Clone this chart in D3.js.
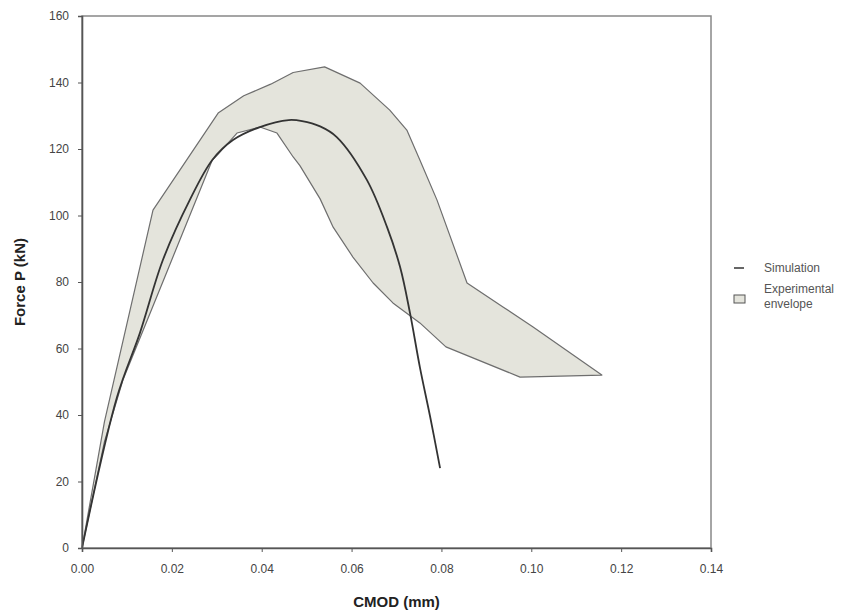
<!DOCTYPE html>
<html>
<head>
<meta charset="utf-8">
<script src="https://cdn.jsdelivr.net/npm/d3@7"></script>
<style>
  body { margin: 0; background: #fff; }
  text { font-family: "Liberation Sans", Arial, sans-serif; }
</style>
</head>
<body>
<svg id="chart" width="866" height="614"></svg>
<script>
// simulation curve: CMOD (mm), force (kN)
const simCmod = [0, 0.0078, 0.0129, 0.018, 0.024, 0.029, 0.0336, 0.0396, 0.046, 0.049, 0.053, 0.0567, 0.0634, 0.0679, 0.0708, 0.073, 0.0752, 0.0775, 0.0797];
const simForce = [0, 45.4, 64.7, 86.6, 104.7, 116.7, 122.7, 126.6, 128.7, 128.4, 126.8, 123.6, 110.7, 96.5, 84.5, 70.7, 54.4, 39.4, 24];

// experimental envelope, upper bound
const upperCmod = [0, 0.005, 0.0158, 0.0303, 0.036, 0.042, 0.047, 0.054, 0.0619, 0.0685, 0.0723, 0.0752, 0.079, 0.0857, 0.0937, 0.1004, 0.1157];
const upperForce = [0, 38, 101.6, 130.8, 136, 139.5, 143, 144.7, 139.8, 131.7, 125.7, 116.7, 104.7, 79.7, 72.5, 66.5, 52];

// experimental envelope, lower bound
const lowerCmod = [0, 0.005, 0.0091, 0.019, 0.029, 0.030, 0.0345, 0.0396, 0.0434, 0.047, 0.0485, 0.053, 0.0559, 0.0603, 0.0648, 0.0692, 0.0752, 0.081, 0.0975, 0.1157];
const lowerForce = [0, 32, 50.5, 83.4, 116.7, 118, 124.8, 126.6, 124.8, 117.6, 115, 105, 96.5, 87.5, 79.7, 73.7, 67.7, 60.5, 51.4, 52];

const xTicks = [0, 0.02, 0.04, 0.06, 0.08, 0.1, 0.12, 0.14];
const yTicks = [0, 20, 40, 60, 80, 100, 120, 140, 160];
const legendLabels = ["Simulation", "Experimental envelope"];

const svg = d3.select("#chart");
const margin = { left: 82, top: 16, right: 155, bottom: 66 };
const W = 866 - margin.left - margin.right;
const H = 614 - margin.top - margin.bottom;

const x = d3.scaleLinear().domain([0, 0.14]).range([0, W]);
const y = d3.scaleLinear().domain([0, 160]).range([H, 0]);

const g = svg.append("g").attr("transform", `translate(${margin.left},${margin.top})`);

// envelope polygon
const envPts = upperCmod.map((c, i) => [c, upperForce[i]])
  .concat(lowerCmod.map((c, i) => [c, lowerForce[i]]).reverse());
const line = d3.line().x((d) => x(d[0])).y((d) => y(d[1]));

g.append("path")
  .attr("d", line(envPts) + "Z")
  .attr("fill", "#e4e4dc")
  .attr("stroke", "#6e6e6e")
  .attr("stroke-width", 1.2)
  .attr("stroke-linejoin", "round");

const simLine = d3.line().x((d) => x(d[0])).y((d) => y(d[1])).curve(d3.curveCatmullRom);
g.append("path")
  .attr("d", simLine(simCmod.map((c, i) => [c, simForce[i]])))
  .attr("fill", "none")
  .attr("stroke", "#333")
  .attr("stroke-width", 1.8);

// frame
g.append("rect")
  .attr("width", W).attr("height", H)
  .attr("fill", "none").attr("stroke", "#888").attr("stroke-width", 1.5);

const xAxis = g.append("g")
  .attr("transform", `translate(0,${H})`)
  .call(d3.axisBottom(x).tickValues(xTicks).tickFormat(d3.format(".2f")).tickSize(4).tickPadding(12));
const yAxis = g.append("g")
  .call(d3.axisLeft(y).tickValues(yTicks).tickSize(4).tickPadding(9));

[xAxis, yAxis].forEach((a) => {
  a.select(".domain").attr("stroke", "#555").attr("stroke-width", 1.6);
  a.selectAll(".tick line").attr("stroke", "#555");
  a.selectAll(".tick text").attr("fill", "#444").attr("font-size", 12)
    .attr("font-family", "Liberation Sans, Arial, sans-serif");
});

// axis titles
svg.append("text")
  .attr("x", margin.left + W / 2).attr("y", 607)
  .attr("text-anchor", "middle")
  .attr("font-size", 15).attr("font-weight", "bold").attr("fill", "#222")
  .text("CMOD (mm)");

svg.append("text")
  .attr("transform", `translate(25,${margin.top + H / 2}) rotate(-90)`)
  .attr("text-anchor", "middle")
  .attr("font-size", 15).attr("font-weight", "bold").attr("fill", "#222")
  .text("Force P (kN)");

// legend
const lg = svg.append("g").attr("transform", "translate(734,268)");
lg.append("line").attr("x1", 0).attr("x2", 10).attr("y1", 0).attr("y2", 0)
  .attr("stroke", "#555").attr("stroke-width", 1.8);
lg.append("text").attr("x", 30).attr("y", 4).attr("font-size", 12).attr("fill", "#555")
  .text(legendLabels[0]);
lg.append("rect").attr("x", 0).attr("y", 27).attr("width", 11).attr("height", 8)
  .attr("fill", "#e4e4dc").attr("stroke", "#555");
const t2 = lg.append("text").attr("x", 30).attr("y", 25).attr("font-size", 12).attr("fill", "#555");
t2.append("tspan").attr("x", 30).text("Experimental");
t2.append("tspan").attr("x", 30).attr("dy", 15).text("envelope");
</script>
</body>
</html>
